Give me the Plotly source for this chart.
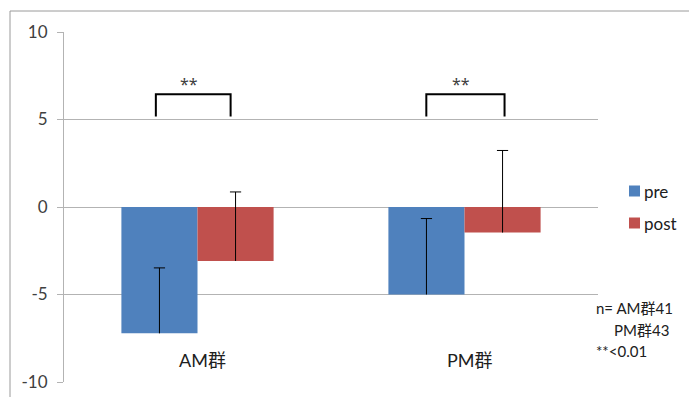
import plotly.graph_objects as go

categories = ["AM群", "PM群"]
series_names = ["pre", "post"]
pre_values = [-7.22, -5.0]
post_values = [-3.08, -1.46]
pre_err = [3.74, 4.34]
post_err = [3.94, 4.69]
y_ticks = [-10, -5, 0, 5, 10]
y_tick_labels = ["-10", "-5", "0", "5", "10"]
sig_label = "**"
note_lines = ["n= AM群41", "PM群43", "**<0.01"]

FONT = "Lato, 'Noto Sans CJK JP', sans-serif"
FONT2 = "'Noto Sans', 'Noto Sans CJK JP', sans-serif"
TXT = "#404040"
COLORS = ["#4F81BD", "#C0504D"]

W, H = 689, 397
L, R, T, B = 64, 91, 32, 15
pw, ph = W - L - R, H - T - B


def px_x(px):
    return (px - L) / pw


def px_y(py):
    return (H - B - py) / ph


fig = go.Figure()
for name, vals, errs, col in [(series_names[0], pre_values, pre_err, COLORS[0]),
                              (series_names[1], post_values, post_err, COLORS[1])]:
    fig.add_trace(go.Bar(
        x=categories, y=vals, name=name, marker_color=col,
        marker_line_width=0, showlegend=False,
        error_y=dict(type="data", symmetric=False, array=errs,
                     arrayminus=[0] * len(errs), color="black", thickness=1, width=0),
    ))
for name, vals, errs in [(series_names[0], pre_values, pre_err),
                         (series_names[1], post_values, post_err)]:
    fig.add_trace(go.Scatter(
        x=categories, y=[v + e for v, e in zip(vals, errs)], mode="markers",
        marker=dict(symbol="line-ew-open", size=8, color="black",
                    line=dict(color="black", width=1)),
        showlegend=False, hoverinfo="skip",
    ))

# significance brackets
brackets = [(-0.156, 0.124), (0.857, 1.150)]
for x0, x1 in brackets:
    fig.add_shape(type="path",
                  path=f"M {x0},5.17 L {x0},6.45 L {x1},6.45 L {x1},5.17",
                  xref="x", yref="y", line=dict(color="black", width=2))
    fig.add_annotation(x=(x0 + x1) / 2, y=7.05, xref="x", yref="y",
                       text=sig_label, showarrow=False, xshift=-4,
                       font=dict(family=FONT2, size=16, color=TXT))

# category labels
for c in categories:
    fig.add_annotation(x=c, y=-8.74, xref="x", yref="y", text=c,
                       showarrow=False, xshift=5,
                       font=dict(family=FONT, size=18, color="#202020"))

# legend (manual, to match spacing)
for i, (name, col) in enumerate(zip(series_names, COLORS)):
    cy = 191 + 32 * i
    fig.add_shape(type="rect", xref="paper", yref="paper",
                  x0=px_x(629), x1=px_x(640), y0=px_y(cy + 5.5), y1=px_y(cy - 5.5),
                  fillcolor=col, line=dict(width=0))
    fig.add_annotation(x=px_x(642), y=px_y(cy), xref="paper", yref="paper",
                       text=name, showarrow=False, xanchor="left", yanchor="middle",
                       font=dict(family=FONT, size=17, color="#202020"))

# note text
notes = [(note_lines[0], 594, 308), (note_lines[1], 612, 330), (note_lines[2], 594, 351)]
for txt, px, py in notes:
    fig.add_annotation(x=px_x(px), y=px_y(py), xref="paper", yref="paper",
                       text=txt, showarrow=False, xanchor="left", yanchor="middle",
                       font=dict(family=FONT, size=15, color="#202020"))

# outer chart border (top and left)
fig.add_shape(type="path",
              path=f"M {px_x(10)},-0.2 L {px_x(10)},{px_y(11)} L 1.3,{px_y(11)}",
              xref="paper", yref="paper", line=dict(color="#9a9a9a", width=1))

fig.update_layout(
    width=W, height=H,
    margin=dict(l=L, r=R, t=T, b=B, autoexpand=False),
    paper_bgcolor="white", plot_bgcolor="white",
    barmode="group", bargap=0.43, bargroupgap=0,
    scattermode="group", scattergap=0.43,
    font=dict(family=FONT, size=14, color=TXT),
    showlegend=False,
    xaxis=dict(range=[-0.5, 1.5], showticklabels=False, showgrid=False,
               zeroline=False, showline=False, ticks=""),
    yaxis=dict(range=[-10, 10], tickvals=y_ticks, ticktext=y_tick_labels,
               showgrid=True, gridcolor="#b3b3b3", gridwidth=1,
               zeroline=False, showline=True, linecolor="#b3b3b3", linewidth=1,
               ticks="outside", ticklen=6, tickcolor="#b3b3b3",
               ticklabelstandoff=6,
               tickfont=dict(family=FONT, size=17, color=TXT)),
)

fig.write_html("out.html", config={"displayModeBar": False},
               post_script="document.body.style.margin='0';document.body.style.padding='0';")
